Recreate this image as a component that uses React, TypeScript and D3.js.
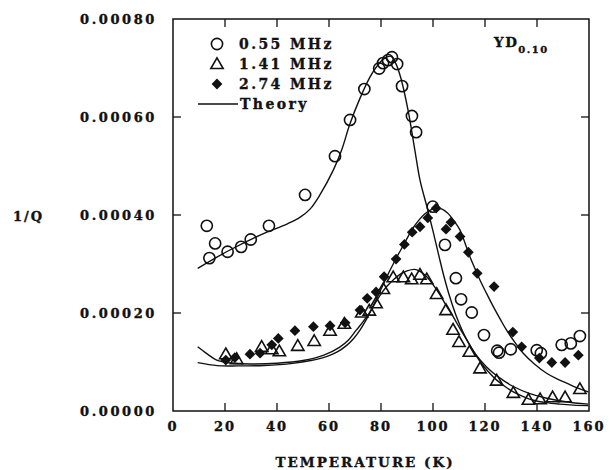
import React, { useRef, useEffect } from 'react';
import * as d3 from 'd3';

// measured points, [temperature K, 1/Q]
const mhz055: [number, number][] = [
  [13.0, 0.000378], [16.2, 0.000342], [14.0, 0.000312], [21.0, 0.000325], [26.2, 0.000335],
  [29.9, 0.00035], [36.9, 0.000378], [50.8, 0.000441], [62.3, 0.00052], [68.1, 0.000594],
  [73.6, 0.000657], [79.3, 0.000699], [80.8, 0.00071], [82.7, 0.000716], [84.2, 0.000722],
  [86.2, 0.000708], [88.1, 0.000663], [91.9, 0.000602], [93.5, 0.000569], [99.9, 0.000417],
  [104.6, 0.000339], [108.8, 0.000271], [110.8, 0.000228], [114.9, 0.000201], [119.6, 0.000155],
  [124.7, 0.000123], [125.4, 0.000119], [129.9, 0.000126], [139.9, 0.000124], [141.5, 0.000118],
  [149.5, 0.000135], [153.0, 0.000138], [156.5, 0.000153],
];

const mhz141: [number, number][] = [
  [20.3, 0.000114], [24.5, 0.000104], [34.1, 0.000129], [38.0, 0.000124], [40.9, 0.00012],
  [48.0, 0.000131], [54.3, 0.000141], [60.4, 0.000162], [65.9, 0.000176], [72.6, 0.000199],
  [75.5, 0.000203], [78.1, 0.000218], [80.9, 0.000247], [84.7, 0.000271], [88.6, 0.000271],
  [91.8, 0.000267], [95.0, 0.000276], [97.6, 0.000267], [101.4, 0.000237], [105.0, 0.000204],
  [107.7, 0.000164], [110.0, 0.000139], [114.0, 0.000119], [118.1, 0.000085], [124.5, 0.00006],
  [130.9, 0.000035], [136.7, 0.000021], [141.2, 0.000022], [146.0, 0.000026], [150.8, 0.000026],
  [156.5, 0.000043],
];

const mhz274: [number, number][] = [
  [20.3, 0.000104], [23.8, 0.000109], [29.6, 0.000116], [33.5, 0.000118], [38.0, 0.000135],
  [40.5, 0.000148], [46.9, 0.000164], [54.0, 0.000172], [60.4, 0.000174], [66.2, 0.00018],
  [71.9, 0.000206], [74.7, 0.00023], [78.1, 0.000243], [81.2, 0.000274], [85.8, 0.00031],
  [89.0, 0.00034], [92.0, 0.000365], [95.0, 0.000376], [98.0, 0.000394], [101.2, 0.000414],
  [105.0, 0.000371], [106.9, 0.000385], [110.4, 0.000356], [113.6, 0.000324], [117.0, 0.000281],
  [123.5, 0.000254], [130.7, 0.000161], [134.1, 0.000131], [140.9, 0.000108], [145.7, 0.000099],
  [150.8, 0.000099], [155.9, 0.000114],
];

// theory curves
const theory055: [number, number][] = [
  [9.5, 0.000291], [20.6, 0.000325], [33.5, 0.000359], [44, 0.000382], [48.8, 0.000395],
  [52.7, 0.000412], [56.5, 0.000441], [61.7, 0.000492], [64.9, 0.000533], [68, 0.000585],
  [71.9, 0.000638], [75.8, 0.000682], [78.8, 0.000706], [81.5, 0.00072], [83.8, 0.000724],
  [85.8, 0.000708], [87.6, 0.00068], [90.4, 0.000614], [93, 0.000533], [95, 0.000471],
  [97.6, 0.000418], [100.1, 0.000365], [102.2, 0.000318], [104.2, 0.000275], [106.5, 0.000232],
  [109.5, 0.000186], [113, 0.000145], [116.5, 0.000115], [120.6, 0.00009], [125.5, 0.000068],
  [130.9, 0.00005], [137, 0.000036], [143.7, 0.000026], [151, 0.000019], [159.7, 0.000014],
];

const theory141: [number, number][] = [
  [9.5, 0.0000986], [17, 0.0000925], [25, 0.000092], [35, 0.000093], [46, 0.0000973],
  [53, 0.000103], [59, 0.000111], [63, 0.00012], [66.8, 0.000134], [69.5, 0.000148],
  [71.9, 0.000165], [74.5, 0.000188], [77, 0.000213], [79.5, 0.000235], [82.2, 0.000254],
  [84.8, 0.000268], [87.3, 0.000279], [90, 0.000286], [93, 0.000289], [95.3, 0.000284],
  [97.6, 0.000274], [100, 0.000258], [102.7, 0.000237], [105.2, 0.000214], [107.8, 0.000192],
  [110.4, 0.000168], [113, 0.000145], [115.5, 0.000122], [118.1, 0.000101], [121.3, 0.00008],
  [124.5, 0.000063], [127.7, 0.00005], [130.9, 0.000039], [134.5, 0.00003], [138.6, 0.000022],
  [143.5, 0.000017], [148.8, 0.000014], [154, 0.000012], [159.7, 0.000011],
];

const theory274: [number, number][] = [
  [9.5, 0.000131], [13, 0.000117], [16.8, 0.000104], [22, 0.000098], [30, 0.000096],
  [40, 0.0000975], [50, 0.000103], [58, 0.000114], [64, 0.00013], [67.5, 0.000145],
  [70.5, 0.000165], [73.2, 0.000183], [75.8, 0.000203], [78.2, 0.000228], [80.5, 0.000254],
  [82.8, 0.00028], [84.7, 0.0003], [86.7, 0.00032], [88.6, 0.000338], [90.5, 0.000357],
  [92.4, 0.000374], [94.5, 0.000389], [96.8, 0.000402], [99, 0.00041], [101.2, 0.000414],
  [103.5, 0.000412], [105.6, 0.000404], [107.8, 0.00039], [110.4, 0.000369], [112.3, 0.000343],
  [114.2, 0.000315], [116.2, 0.00029], [118.1, 0.000267], [120.6, 0.00024], [123.2, 0.000213],
  [125.8, 0.000188], [128.3, 0.000165], [131.5, 0.00014], [134.7, 0.000118], [139, 0.000096],
  [143.7, 0.000077], [147.5, 0.000066], [151.4, 0.000057], [155.5, 0.000047], [159.7, 0.000039],
];

const xTicks = [0, 20, 40, 60, 80, 100, 120, 140, 160];
const yTicks = [0, 0.0002, 0.0004, 0.0006, 0.0008];
const legendLabels = ['0.55 MHz', '1.41 MHz', '2.74 MHz', 'Theory'];

export default function App() {
  const ref = useRef<SVGSVGElement>(null);

  useEffect(() => {
    const width = 611;
    const height = 470;
    const margin = { top: 19, right: 22, bottom: 59, left: 173 };
    const font = '"DejaVu Serif", serif';
    const ink = '#111';

    const x = d3.scaleLinear().domain([0, 160]).range([margin.left, width - margin.right]);
    const y = d3.scaleLinear().domain([0, 0.0008]).range([height - margin.bottom, margin.top]);

    const svg = d3.select(ref.current).attr('width', width).attr('height', height);
    svg.selectAll('*').remove();
    svg.append('rect').attr('width', width).attr('height', height).attr('fill', '#fff');

    const g = svg.append('g').attr('font-family', font).attr('font-weight', 'bold');
    // heavier text, like the scanned original
    const txt = g.append('g').attr('fill', ink).attr('stroke', ink).attr('stroke-width', 0.35);

    // frame
    g.append('rect')
      .attr('x', x(0)).attr('y', y(0.0008))
      .attr('width', x(160) - x(0)).attr('height', y(0) - y(0.0008))
      .attr('fill', 'none').attr('stroke', ink).attr('stroke-width', 1.5);

    const tk = 8;
    // inward ticks, all four sides
    xTicks.slice(1, -1).forEach(t => {
      g.append('line').attr('x1', x(t)).attr('x2', x(t)).attr('y1', y(0)).attr('y2', y(0) - tk)
        .attr('stroke', ink).attr('stroke-width', 1.3);
      g.append('line').attr('x1', x(t)).attr('x2', x(t)).attr('y1', y(0.0008)).attr('y2', y(0.0008) + tk)
        .attr('stroke', ink).attr('stroke-width', 1.3);
    });
    yTicks.slice(1, -1).forEach(t => {
      g.append('line').attr('x1', x(0)).attr('x2', x(0) + tk).attr('y1', y(t)).attr('y2', y(t))
        .attr('stroke', ink).attr('stroke-width', 1.3);
      g.append('line').attr('x1', x(160)).attr('x2', x(160) - tk).attr('y1', y(t)).attr('y2', y(t))
        .attr('stroke', ink).attr('stroke-width', 1.3);
    });

    // tick labels
    txt.append('g').selectAll('text').data(xTicks).enter().append('text')
      .attr('x', d => x(d)).attr('y', y(0) + 20)
      .attr('text-anchor', 'middle').attr('font-size', 13).attr('letter-spacing', 2)
      .text(d => String(d));

    txt.append('g').selectAll('text').data(yTicks).enter().append('text')
      .attr('x', x(0) - 16).attr('y', d => y(d) + 5)
      .attr('text-anchor', 'end').attr('font-size', 13).attr('letter-spacing', 2.6)
      .text(d => d.toFixed(5));

    txt.append('text').attr('x', 13).attr('y', y(0.0004) + 6).attr('font-size', 13)
      .attr('letter-spacing', 2).text('1/Q');

    txt.append('text').attr('x', (x(0) + x(160)) / 2 - 16).attr('y', 467)
      .attr('text-anchor', 'middle').attr('font-size', 13.5).attr('letter-spacing', 2)
      .text('TEMPERATURE (K)');

    const yd = txt.append('text').attr('x', 494).attr('y', 47).attr('font-size', 13.5)
      .attr('letter-spacing', 1.5);
    yd.append('tspan').text('YD');
    yd.append('tspan').attr('dy', 6).attr('font-size', 10).text('0.10');

    // theory lines
    const line = d3.line<[number, number]>()
      .x(d => x(d[0])).y(d => y(d[1]))
      .curve(d3.curveCatmullRom.alpha(0.5));
    [theory055, theory141, theory274].forEach(c => {
      g.append('path').attr('d', line(c)).attr('fill', 'none')
        .attr('stroke', ink).attr('stroke-width', 1.4);
    });

    // markers
    const circle = (sel: any) => sel.append('circle').attr('r', 5.6)
      .attr('fill', 'none').attr('stroke', ink).attr('stroke-width', 1.6);
    const tri = d3.symbol().type(d3.symbolTriangle).size(66);
    const sq = d3.symbol().type(d3.symbolSquare).size(58);

    const c055 = g.append('g').selectAll('g').data(mhz055).enter().append('g')
      .attr('transform', d => `translate(${x(d[0])},${y(d[1])})`);
    circle(c055);

    g.append('g').selectAll('path').data(mhz141).enter().append('path')
      .attr('d', tri()).attr('transform', d => `translate(${x(d[0])},${y(d[1])})`)
      .attr('fill', 'none').attr('stroke', ink).attr('stroke-width', 1.6);

    g.append('g').selectAll('path').data(mhz274).enter().append('path')
      .attr('d', sq()).attr('transform', d => `translate(${x(d[0])},${y(d[1])}) rotate(45)`)
      .attr('fill', ink);

    // legend
    const lx = 217, ly = 44, step = 20;
    const leg = g.append('g');
    circle(leg.append('g').attr('transform', `translate(${lx},${ly})`));
    leg.append('path').attr('d', tri()).attr('transform', `translate(${lx},${ly + step + 1})`)
      .attr('fill', 'none').attr('stroke', ink).attr('stroke-width', 1.6);
    leg.append('path').attr('d', sq()).attr('transform', `translate(${lx},${ly + step * 2}) rotate(45)`)
      .attr('fill', ink);
    leg.append('line').attr('x1', 198).attr('x2', 238).attr('y1', ly + step * 3).attr('y2', ly + step * 3)
      .attr('stroke', ink).attr('stroke-width', 1.4);
    txt.append('g').selectAll('text').data(legendLabels).enter().append('text')
      .attr('x', (d, i) => (i === 3 ? 240 : 239)).attr('y', (d, i) => ly + 5 + i * step)
      .attr('font-size', 14).attr('letter-spacing', 2.4)
      .text(d => d);
  }, []);

  return (
    <div style={{ position: 'absolute', left: 0, top: 0 }}>
      <svg ref={ref} style={{ display: 'block' }} />
    </div>
  );
}
